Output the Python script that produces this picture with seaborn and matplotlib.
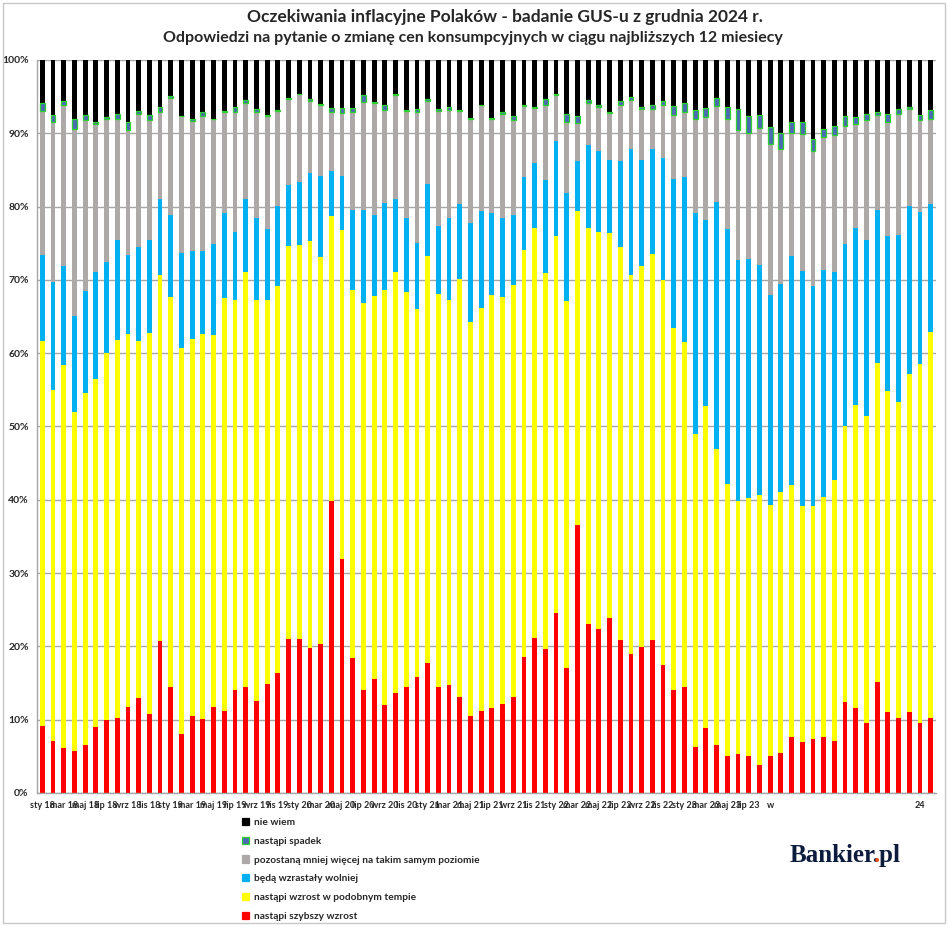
import numpy as np
import matplotlib
matplotlib.use("Agg")
import matplotlib.pyplot as plt
import seaborn as sns
from matplotlib.patches import Patch, Rectangle

# ---------------- data (percent of answers) ----------------
month_names = ['sty', 'lut', 'mar', 'kwi', 'maj', 'cze', 'lip', 'sie', 'wrz', 'paź', 'lis', 'gru']
years = ['18', '19', '20', '21', '22', '23', '24']
months = [f'{m} {y}' for y in years for m in month_names]

szybszy = [9.1, 7.1, 6.1, 5.7, 6.6, 9.0, 9.9, 10.2, 11.8, 13.0, 10.8, 20.8,
           14.4, 8.1, 10.5, 10.1, 11.7, 11.2, 14.1, 14.5, 12.5, 14.9, 16.4, 21.0,
           21.0, 19.8, 20.3, 39.9, 31.9, 18.4, 14.0, 15.6, 12.0, 13.6, 14.5, 15.8,
           17.7, 14.5, 14.8, 13.1, 10.5, 11.2, 11.6, 12.2, 13.1, 18.5, 21.1, 19.6,
           24.6, 17.0, 36.6, 23.0, 22.4, 23.9, 20.9, 19.0, 19.9, 20.9, 17.5, 14.0,
           14.5, 6.3, 8.8, 6.5, 5.1, 5.3, 5.1, 3.8, 5.1, 5.5, 7.7, 6.9,
           7.4, 7.6, 7.1, 12.4, 11.6, 9.6, 15.1, 11.1, 10.3, 11.0, 9.5, 10.3]
podobny = [52.6, 47.9, 52.3, 46.3, 48.0, 47.5, 50.1, 51.6, 50.8, 48.6, 51.9, 49.9,
           53.3, 52.6, 51.5, 52.5, 50.8, 56.3, 53.2, 56.6, 54.8, 52.4, 52.7, 53.6,
           53.8, 55.5, 52.8, 38.8, 44.9, 50.2, 52.9, 52.2, 56.6, 57.5, 53.8, 50.2,
           55.5, 53.6, 52.4, 57.0, 53.7, 55.0, 56.4, 55.4, 56.2, 55.6, 56.0, 51.4,
           51.4, 50.1, 42.8, 54.1, 54.2, 52.5, 53.6, 51.7, 52.0, 52.6, 52.5, 49.5,
           47.0, 42.7, 44.0, 40.4, 37.1, 34.6, 35.2, 36.9, 34.2, 35.5, 34.3, 32.3,
           31.8, 32.8, 35.6, 37.7, 41.3, 41.8, 43.6, 43.8, 43.0, 46.2, 49.0, 52.6]
wolniej = [11.7, 14.7, 13.5, 13.1, 13.9, 14.6, 12.4, 13.7, 10.8, 12.9, 12.7, 10.3,
           11.2, 13.0, 11.9, 11.3, 12.4, 11.6, 9.3, 9.9, 11.1, 9.6, 11.0, 8.3,
           8.6, 9.3, 11.1, 6.1, 7.4, 11.0, 12.7, 11.1, 11.9, 10.0, 10.2, 9.1,
           9.9, 9.3, 11.2, 10.3, 13.6, 13.2, 11.1, 10.8, 9.6, 10.0, 8.9, 12.6,
           13.0, 14.7, 6.8, 11.3, 11.0, 10.0, 11.7, 17.1, 14.5, 14.4, 16.6, 20.2,
           22.6, 30.1, 25.4, 33.7, 34.7, 32.8, 32.6, 31.3, 28.7, 28.4, 31.2, 32.0,
           29.9, 30.9, 28.4, 24.8, 24.2, 24.0, 20.9, 21.1, 22.8, 22.9, 20.8, 17.4]
bez_zmian = [19.6, 21.9, 22.0, 25.5, 23.3, 20.2, 19.6, 16.4, 17.1, 18.1, 16.4, 11.9,
             15.9, 18.6, 17.8, 18.5, 17.0, 13.8, 16.3, 13.1, 14.5, 15.4, 12.9, 11.8,
             11.9, 9.8, 9.7, 8.1, 8.6, 13.3, 14.7, 15.3, 12.7, 14.1, 14.6, 17.8,
             11.3, 15.7, 14.8, 12.6, 14.2, 14.4, 12.9, 14.3, 12.9, 9.6, 7.5, 10.3,
             6.2, 9.8, 5.2, 5.8, 6.0, 6.4, 7.6, 6.7, 6.9, 5.4, 7.3, 8.8,
             8.8, 12.8, 14.0, 13.1, 15.1, 17.7, 17.1, 18.7, 20.5, 18.4, 16.9, 18.7,
             18.5, 18.2, 18.6, 16.1, 14.2, 16.4, 12.9, 15.6, 16.5, 13.2, 12.5, 11.7]
spadek = [1.1, 0.9, 0.5, 1.3, 0.7, 0.3, 0.2, 0.8, 1.1, 0.4, 0.7, 0.7,
          0.3, 0.1, 0.3, 0.5, 0.1, 0.1, 0.7, 0.4, 0.4, 0.2, 0.2, 0.1,
          0.1, 0.3, 0.1, 0.5, 0.7, 0.6, 0.9, 0.1, 0.6, 0.2, 0.1, 0.4,
          0.3, 0.2, 0.4, 0.2, 0.1, 0.1, 0.1, 0.2, 0.6, 0.2, 0.1, 0.8,
          0.2, 1.0, 0.9, 0.4, 0.3, 0.1, 0.6, 0.4, 0.3, 0.5, 0.5, 1.2,
          1.3, 1.3, 1.3, 1.1, 1.6, 2.9, 2.3, 1.8, 2.4, 2.3, 1.5, 1.6,
          1.6, 1.1, 1.3, 1.3, 0.9, 0.8, 0.4, 1.0, 0.7, 0.3, 0.7, 1.2]
nie_wiem = [5.9, 7.5, 5.6, 8.1, 7.5, 8.4, 7.8, 7.3, 8.4, 7.0, 7.5, 6.4,
            4.9, 7.6, 8.0, 7.1, 8.0, 7.0, 6.4, 5.5, 6.7, 7.5, 6.8, 5.2,
            4.6, 5.3, 6.0, 6.6, 6.5, 6.5, 4.8, 5.7, 6.2, 4.6, 6.8, 6.7,
            5.3, 6.7, 6.4, 6.8, 7.9, 6.1, 7.9, 7.1, 7.6, 6.1, 6.4, 5.3,
            4.6, 7.4, 7.7, 5.4, 6.1, 7.1, 5.6, 5.1, 6.4, 6.2, 5.6, 6.3,
            5.8, 6.8, 6.5, 5.2, 6.4, 6.7, 7.7, 7.5, 9.1, 9.9, 8.4, 8.5,
            10.8, 9.4, 9.0, 7.7, 7.8, 7.4, 7.1, 7.4, 6.7, 6.4, 7.5, 6.8]

# x tick labels as shown (every second month; the tail is clipped in the original)
tick_labels = ['sty 18', 'mar 18', 'maj 18', 'lip 18', 'wrz 18', 'lis 18',
               'sty 19', 'mar 19', 'maj 19', 'lip 19', 'wrz 19', 'lis 19',
               'sty 20', 'mar 20', 'maj 20', 'lip 20', 'wrz 20', 'lis 20',
               'sty 21', 'mar 21', 'maj 21', 'lip 21', 'wrz 21', 'lis 21',
               'sty 22', 'mar 22', 'maj 22', 'lip 22', 'wrz 22', 'lis 22',
               'sty 23', 'mar 23', 'maj 23', 'lip 23', 'w', '',
               '', '', '', '', '', '24']

series_names = ['nastąpi szybszy wzrost', 'nastąpi wzrost w podobnym tempie',
                'będą wzrastały wolniej', 'pozostaną mniej więcej na takim samym poziomie',
                'nastąpi spadek', 'nie wiem']
series_values = [szybszy, podobny, wolniej, bez_zmian, spadek, nie_wiem]
series_colors = ['#FF0000', '#FFFF00', '#00B0F0', '#ADA9A8', '#4A6BB3', '#000000']

title1 = 'Oczekiwania inflacyjne Polaków - badanie GUS-u z grudnia 2024 r.'
title2 = 'Odpowiedzi na pytanie o zmianę cen konsumpcyjnych w ciągu najbliższych 12 miesiecy'

# ---------------- plot ----------------
sns.set_theme(style="white")
plt.rcParams['font.family'] = ['Lato', 'DejaVu Sans']

W, H = 948, 926
fig = plt.figure(figsize=(W / 100, H / 100), dpi=100)
ax = fig.add_axes([37 / W, 1 - 793 / H, (936 - 37) / W, (793 - 60) / H])

green_edge = '#2FD12F'
base = np.zeros(len(months))
for name, vals, col in zip(series_names, series_values, series_colors):
    vals = np.asarray(vals, dtype=float)
    is_sp = name == 'nastąpi spadek'
    sns.barplot(x=months, y=vals, bottom=base, color=col, saturation=1,
                width=0.45, errorbar=None, ax=ax,
                edgecolor=green_edge if is_sp else col,
                linewidth=0.9 if is_sp else 0,
                zorder=3 if is_sp else 2)
    base = base + vals

ax.set_xlim(-0.5, len(months) - 0.5)
ax.set_ylim(0, 100)
ax.set_yticks(np.arange(0, 101, 10))
ax.set_yticklabels([f'{v}%' for v in range(0, 101, 10)], fontsize=7.5, fontweight='bold')
ax.yaxis.grid(True, color='#A6A6A6', linewidth=1.0)
ax.set_axisbelow(True)

ax.set_xticks(np.arange(0, len(months), 2))
ax.set_xticklabels(tick_labels, fontsize=6.5, fontweight='bold')
ax.set_xticks(np.arange(-0.5, len(months), 2), minor=True)
ax.tick_params(axis='x', which='major', length=0, pad=6)
ax.tick_params(axis='x', which='minor', length=4, width=0.8, color='#A6A6A6', direction='out')
ax.tick_params(axis='y', length=3, width=0.8, color='#A6A6A6', pad=3)
ax.set_xlabel('')
ax.set_ylabel('')
for s in ['top', 'right']:
    ax.spines[s].set_visible(False)
for s in ['left', 'bottom']:
    ax.spines[s].set_color('#A6A6A6')
    ax.spines[s].set_linewidth(1.0)

# titles
fig.text(505 / W, 1 - 17 / H, title1, ha='center', va='center', fontsize=12.5, fontweight='bold')
fig.text(473 / W, 1 - 38 / H, title2, ha='center', va='center', fontsize=11.5, fontweight='bold')

# legend (top to bottom: nie wiem ... szybszy wzrost)
handles = []
for name, col in zip(series_names[::-1], series_colors[::-1]):
    ec = green_edge if name == 'nastąpi spadek' else col
    handles.append(Patch(facecolor=col, edgecolor=ec, linewidth=0.9, label=name))
fig.legend(handles=handles, loc='upper left', bbox_to_anchor=(242 / W, 1 - 818 / H),
           frameon=False, prop={'size': 7.3, 'weight': 'bold'},
           handlelength=0.7, handleheight=0.7, handletextpad=0.5, labelspacing=0.95,
           borderaxespad=0, borderpad=0)

# logo: full word in navy, then the dot re-drawn in orange at its measured place
logo_kw = dict(fontfamily='Liberation Serif', fontweight='bold', fontsize=18, va='baseline')
logo_word, logo_tail = 'Bankier.pl', '.pl'
x0, yb = 790, 862
renderer = fig.canvas.get_renderer()
t_full = fig.text(x0 / W, 1 - yb / H, logo_word, color='#0D1B3D', **logo_kw)
w_full = t_full.get_window_extent(renderer).width
t_tmp = fig.text(0, 0, logo_tail, **logo_kw)
w_tail = t_tmp.get_window_extent(renderer).width
t_tmp.remove()
fig.text((x0 + w_full - w_tail) / W, 1 - yb / H, '.', color='#E8541E', zorder=5, **logo_kw)

# outer frame
fig.patches.append(Rectangle((3 / W, 3 / H), (945 - 3) / W, (923 - 3) / H,
                             transform=fig.transFigure, fill=False,
                             edgecolor='#C8C8C8', linewidth=1.0))

fig.savefig('out.png', dpi=100)
